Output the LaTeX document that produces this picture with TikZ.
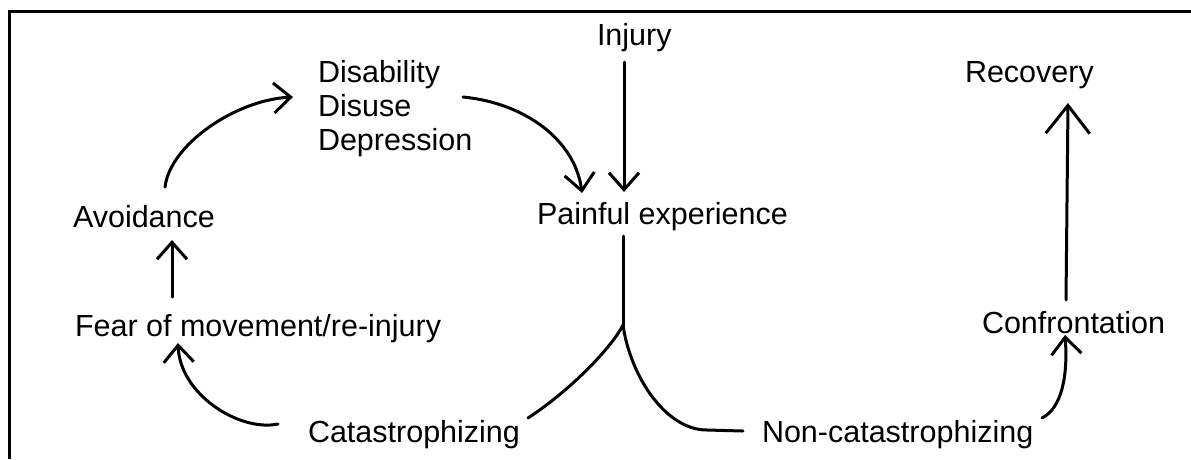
\documentclass[tikz,border=0pt]{standalone}
\usepackage{fontspec}
\setmainfont{Liberation Sans}
\usetikzlibrary{arrows.meta,calc}
\begin{document}
\begin{tikzpicture}[x=1pt,y=-1pt,
  lbl/.style={anchor=base west,inner sep=0pt,outer sep=0pt,font=\fontsize{30.5}{34}\selectfont},
  conn/.style={line width=3pt,line cap=round,line join=round},
  arr/.style={conn,-{Straight Barb[length=17pt,width=30pt]}},
  arrbig/.style={conn,-{Straight Barb[length=28pt,width=44pt]}},
  frame/.style={line width=3pt}
]
\useasboundingbox (0,0) rectangle (1191,459);
\draw[frame] (9.5,459) -- (9.5,11) -- (1191,11);

% nodes
\node[lbl] (injury)   at (597,45)  {Injury};
\node[lbl] (recovery) at (965,82)  {Recovery};
\node[lbl] (dis1)     at (318,82)  {Disability};
\node[lbl] (dis2)     at (318,116) {Disuse};
\node[lbl] (dis3)     at (318,150) {Depression};
\node[lbl] (pain)     at (537,224) {Painful experience};
\node[lbl] (avoid)    at (73,227)  {Avoidance};
\node[lbl] (fear)     at (75,336)  {Fear of movement/re-injury};
\node[lbl] (cat)      at (308,442) {Catastrophizing};
\node[lbl] (noncat)   at (762,442) {Non-catastrophizing};
\node[lbl] (conf)     at (982,333) {Confrontation};

% Injury -> Painful experience
\draw[arr] ($(injury.base west)+(27,17)$) -- ($(pain.base west)+(87,-32)$);
% Disability block -> Painful experience
\draw[arr] ($(dis2.base west)+(145,-19)$) .. controls +(62,6) and +(-7,-53) .. ($(pain.base west)+(45,-31)$);
% Avoidance -> Disability block
\draw[arr] ($(avoid.base west)+(92,-40)$) .. controls +(5,-42) and +(-58,3) .. ($(dis2.base west)+(-25,-19)$);
% Fear -> Avoidance
\draw[arr] ($(fear.base west)+(97,-39)$) -- ($(avoid.base west)+(99,13)$);
% Catastrophizing -> Fear
\draw[arr] ($(cat.base west)+(-30,-18)$) .. controls +(-38,8) and +(2,52) .. ($(fear.base west)+(103,7)$);
% Painful experience split
\coordinate (split) at ($(pain.base west)+(86,101)$);
\draw[conn] ($(pain.base west)+(86,12)$) -- (split);
\draw[conn] (split) .. controls +(-10,20) and +(47,-31) .. ($(cat.base west)+(220,-24)$);
\draw[conn] (split) .. controls +(7,50) and +(-42,0) .. ($(noncat.base west)+(-55,-12)$) -- ($(noncat.base west)+(-19,-11)$);
% Non-catastrophizing -> Confrontation
\draw[arr] ($(noncat.base west)+(280,-24)$) .. controls +(20,-10) and +(3,40) .. ($(conf.base west)+(83,2)$);
% Confrontation -> Recovery
\draw[arrbig] ($(conf.base west)+(84,-33)$) -- ($(recovery.base west)+(103,21)$);
\end{tikzpicture}
\end{document}
